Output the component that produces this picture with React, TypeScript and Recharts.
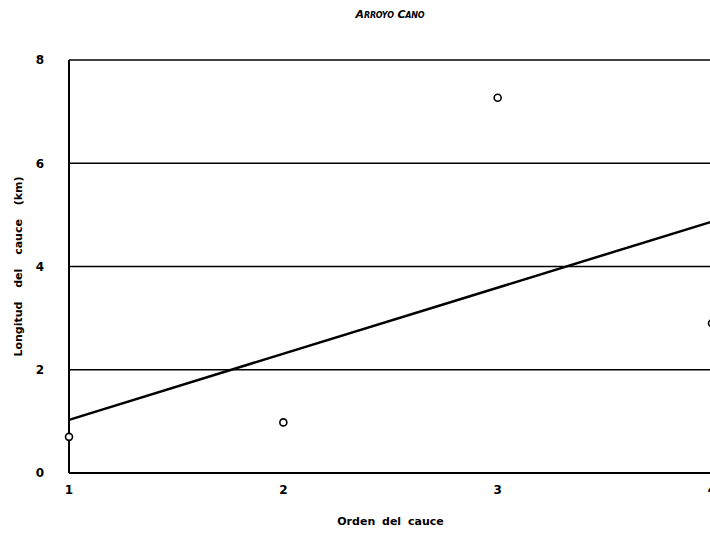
import React from 'react';
import {
  ComposedChart, Scatter, Line, XAxis, YAxis, CartesianGrid, Label
} from 'recharts';

// orden del cauce vs longitud (km)
const ordenes = [1, 2, 3, 4];
const longitudes = [0.7, 0.98, 7.27, 2.9];
const tendenciaX = [1, 4];
const tendenciaY = [1.03, 4.87];
const yTicks = [0, 2, 4, 6, 8];

const puntos = ordenes.map((x, i) => ({ x, y: longitudes[i] }));
const tendencia = tendenciaX.map((x, i) => ({ x, y: tendenciaY[i] }));

const FONT = '"DejaVu Sans", sans-serif';
const tickStyle = { fill: '#000', fontSize: 12, fontWeight: 700, fontFamily: FONT };

const Punto = (props: { cx?: number; cy?: number }) => {
  const { cx, cy } = props;
  if (cx == null || cy == null) return null;
  return <circle cx={cx} cy={cy} r={3.5} fill="#fff" stroke="#000" strokeWidth={1.6} />;
};

const App: React.FC = () => (
  <div style={{ position: 'fixed', left: 0, top: 0, width: 710, height: 536, overflow: 'hidden', background: '#fff' }}>
    <div style={{
      position: 'absolute', top: 8, left: 0, width: 780, textAlign: 'center',
      fontFamily: FONT, fontSize: 11, fontWeight: 700, fontStyle: 'italic',
      fontVariant: 'small-caps', letterSpacing: -0.2
    }}>
      Arroyo Cano
    </div>
    <ComposedChart
      width={760}
      height={536}
      margin={{ top: 60, right: 48, left: 0, bottom: 0 }}
    >
      <CartesianGrid vertical={false} stroke="#000" strokeWidth={1.5} />
      <XAxis
        type="number"
        dataKey="x"
        domain={[1, 4]}
        ticks={ordenes}
        height={63}
        tick={tickStyle}
        tickSize={0}
        tickMargin={12}
        axisLine={{ stroke: '#000', strokeWidth: 2 }}
      >
        <Label
          value="Orden del cauce"
          position="insideBottom"
          offset={11}
          style={{ fill: '#000', fontSize: 11, fontWeight: 700, fontFamily: FONT, wordSpacing: 3 }}
        />
      </XAxis>
      <YAxis
        type="number"
        domain={[0, 8]}
        ticks={yTicks}
        width={69}
        tick={tickStyle}
        tickSize={0}
        tickMargin={25}
        axisLine={{ stroke: '#000', strokeWidth: 2 }}
      >
        <Label
          value="Longitud del cauce (km)"
          position="center"
          angle={-90}
          dx={-16}
          style={{ fill: '#000', fontSize: 11, fontWeight: 700, fontFamily: FONT, textAnchor: 'middle', wordSpacing: 10 }}
        />
      </YAxis>
      <Line
        data={tendencia}
        dataKey="y"
        type="linear"
        stroke="#000"
        strokeWidth={2.5}
        dot={false}
        activeDot={false}
        isAnimationActive={false}
      />
      <Scatter
        data={puntos}
        dataKey="y"
        shape={<Punto />}
        isAnimationActive={false}
      />
    </ComposedChart>
  </div>
);

export default App;
